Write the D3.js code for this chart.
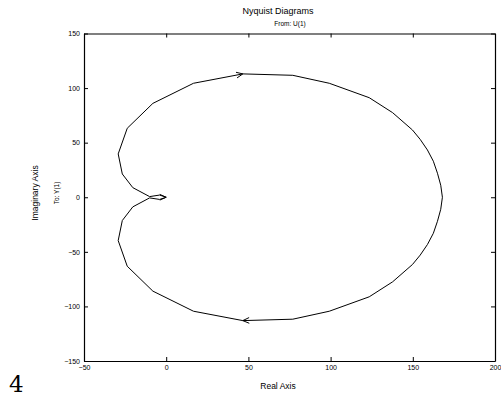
<!DOCTYPE html>
<html>
<head>
<meta charset="utf-8">
<script src="https://cdn.jsdelivr.net/npm/d3@7"></script>
<style>
  body { margin: 0; background: #fff; }
  svg { display: block; }
  text { font-family: "Liberation Sans", Arial, sans-serif; fill: #000; }
</style>
</head>
<body>
<svg id="chart"></svg>
<script>
// Nyquist curve: upper branch (origin -> DC point) then lower branch back
var reUpper = [0, -4, -10.1, -20.3, -26.7, -29.2, -23.7, -8.1, 16.6, 46.6, 77, 99.2, 123.5, 137.7, 149.8, 154.5, 158.9, 162.5, 165, 167, 168];
var imUpper = [0, 2, 0.6, 8.8, 21.3, 39.7, 63.2, 86, 104.4, 113, 111.7, 104.4, 91.2, 77.5, 61.6, 53, 43.3, 33, 22, 11, 0];
var reLower = [168, 167, 165, 162.5, 158.9, 154.5, 149.8, 137.7, 123.5, 99.2, 77, 46.6, 16.6, -8.1, -23.7, -29.2, -26.7, -20.3, -10.1, -4, 0];
var imLower = [0, -11, -22, -33, -43.3, -53, -61.6, -77.5, -91.2, -104.4, -111.7, -113, -104.4, -86, -63.2, -39.7, -21.3, -8.8, -0.6, -2, 0];

// arrow tips and the point each arrow comes from
var arrowTipRe = [46.6, 46.6, 0];
var arrowTipIm = [113, -113, 0];
var arrowFromRe = [16.6, 77, -4];
var arrowFromIm = [104.4, -111.7, 0];

var xTicks = [-50, 0, 50, 100, 150, 200];
var yTicks = [-150, -100, -50, 0, 50, 100, 150];

var W = 501, H = 399;
var margin = { top: 33.5, right: 6, bottom: 38, left: 84 };

var svg = d3.select("#chart")
    .attr("width", W)
    .attr("height", H);

var x = d3.scaleLinear()
    .domain([-50, 200])
    .range([margin.left, W - margin.right]);

var y = d3.scaleLinear()
    .domain([-150, 150])
    .range([H - margin.bottom, margin.top]);

var fmt = function(d) { return d < 0 ? "\u2212" + Math.abs(d) : "" + d; };

// axes, ticks pointing inwards
svg.append("g")
    .attr("transform", "translate(0," + y(-150) + ")")
    .call(d3.axisBottom(x).tickValues(xTicks).tickFormat(fmt).tickSize(-4).tickSizeOuter(0).tickPadding(4));
svg.append("g")
    .attr("transform", "translate(0," + y(150) + ")")
    .call(d3.axisTop(x).tickValues(xTicks).tickFormat("").tickSize(-4).tickSizeOuter(0));
svg.append("g")
    .attr("transform", "translate(" + x(-50) + ",0)")
    .call(d3.axisLeft(y).tickValues(yTicks).tickFormat(fmt).tickSize(-4).tickSizeOuter(0).tickPadding(4));
svg.append("g")
    .attr("transform", "translate(" + x(200) + ",0)")
    .call(d3.axisRight(y).tickValues(yTicks).tickFormat("").tickSize(-4).tickSizeOuter(0));

svg.selectAll(".domain").attr("stroke", "#000").attr("stroke-width", 1.2);
svg.selectAll(".tick line").attr("stroke", "#000");
svg.selectAll(".tick text")
    .style("font-family", "'Liberation Sans', Arial, sans-serif")
    .style("font-size", "7px")
    .attr("fill", "#000");

// curve
var pts = [];
reUpper.forEach(function(r, i) { pts.push([r, imUpper[i]]); });
reLower.forEach(function(r, i) { pts.push([r, imLower[i]]); });

var line = d3.line()
    .x(function(d) { return x(d[0]); })
    .y(function(d) { return y(d[1]); });

svg.append("path")
    .datum(pts)
    .attr("d", line)
    .attr("fill", "none")
    .attr("stroke", "#000")
    .attr("stroke-width", 1);

// open arrowheads
arrowTipRe.forEach(function(r, i) {
    var tx = x(r), ty = y(arrowTipIm[i]);
    var fx = x(arrowFromRe[i]), fy = y(arrowFromIm[i]);
    var a = Math.atan2(ty - fy, tx - fx);
    var len = 7, spread = 0.42;
    var p1 = [tx - len * Math.cos(a - spread), ty - len * Math.sin(a - spread)];
    var p2 = [tx - len * Math.cos(a + spread), ty - len * Math.sin(a + spread)];
    svg.append("path")
        .attr("d", "M" + p1 + "L" + tx + "," + ty + "L" + p2)
        .attr("fill", "none")
        .attr("stroke", "#000")
        .attr("stroke-width", 1);
});

// titles and labels
svg.append("text")
    .attr("x", 278).attr("y", 14)
    .attr("text-anchor", "middle")
    .style("font-size", "9px")
    .text("Nyquist Diagrams");
svg.append("text")
    .attr("x", 290).attr("y", 26)
    .attr("text-anchor", "middle")
    .style("font-size", "6.5px")
    .text("From: U(1)");
svg.append("text")
    .attr("x", 278).attr("y", 389)
    .attr("text-anchor", "middle")
    .style("font-size", "8.5px")
    .text("Real Axis");
svg.append("text")
    .attr("transform", "translate(38,193) rotate(-90)")
    .attr("text-anchor", "middle")
    .style("font-size", "8.5px")
    .text("Imaginary Axis");
svg.append("text")
    .attr("transform", "translate(59,193) rotate(-90)")
    .attr("text-anchor", "middle")
    .style("font-size", "6.5px")
    .text("To: Y(1)");
svg.append("text")
    .attr("x", 9).attr("y", 392)
    .attr("font-family", "'DejaVu Serif', serif")
    .style("font-family", "'DejaVu Serif', serif")
    .style("font-size", "23px")
    .text("4");
</script>
</body>
</html>
